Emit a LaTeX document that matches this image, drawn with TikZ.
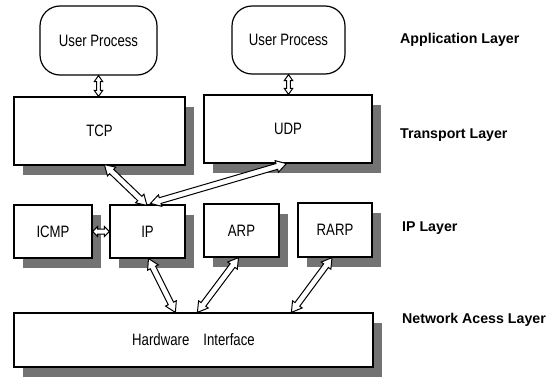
\documentclass[tikz,border=0pt]{standalone}
\usepackage{fontspec}
\usetikzlibrary{calc,shadows}
\newfontfamily\boxfont[FakeStretch=0.8]{Liberation Sans}
\newfontfamily\labfont{Liberation Sans}
\newcommand\dblarrow[5]{%
  \coordinate (ha) at ($(#1)!#5!(#2)$);
  \coordinate (hb) at ($(#2)!#5!(#1)$);
  \draw[hollow] (#1) -- ($(ha)!#4!90:(#2)$) -- ($(ha)!#3!90:(#2)$)
    -- ($(hb)!#3!-90:(#1)$) -- ($(hb)!#4!-90:(#1)$) -- (#2)
    -- ($(hb)!#4!90:(#1)$) -- ($(hb)!#3!90:(#1)$)
    -- ($(ha)!#3!-90:(#2)$) -- ($(ha)!#4!-90:(#2)$) -- cycle;
}
\begin{document}
\begin{tikzpicture}[x=1pt,y=-1pt,
  box/.style={draw, line width=1.2pt, fill=white, inner sep=0pt,
    font=\boxfont\fontsize{16.5}{18}\selectfont,
    drop shadow={shadow xshift=9pt, shadow yshift=-10pt, fill=black!55, opacity=1}},
  proc/.style={draw, line width=1.2pt, fill=white, inner sep=0pt, rounded corners=20pt,
    font=\boxfont\fontsize{16.5}{18}\selectfont},
  layer/.style={anchor=west, inner sep=0pt, font=\labfont\bfseries\fontsize{14.2}{16}\selectfont},
  hollow/.style={draw, fill=white, line width=1pt, line join=miter}]
\useasboundingbox (0,0) rectangle (559,380);

\node[proc, minimum width=117pt, minimum height=69pt] (up1) at (98.5,40.5) {User Process};
\node[proc, minimum width=113pt, minimum height=68pt] (up2) at (288.5,40) {User Process};

\node[box, minimum width=171pt, minimum height=68pt] (tcp) at (99.5,131) {TCP};
\node[box, minimum width=168pt, minimum height=68pt] (udp) at (288,129) {UDP};

\node[box, minimum width=78pt, minimum height=53pt] (icmp) at (53,231.5) {ICMP};
\node[box, minimum width=75pt, minimum height=53pt] (ip) at (147.5,231.5) {IP};
\node[box, minimum width=75pt, minimum height=53pt] (arp) at (241.5,230.5) {ARP};
\node[box, minimum width=74pt, minimum height=54pt] (rarp) at (335,230) {RARP};

\node[box, minimum width=359pt, minimum height=54pt] (hw) at (193.5,340) {Hardware\hspace{14pt}Interface};

\node[layer] (l1) at (400,40) {Application Layer};
\node[layer] (l2) at (400,135) {Transport Layer};
\node[layer] (l3) at (402,228) {IP Layer};
\node[layer] (l4) at (402,320) {Network Acess Layer};

% connector end points
\coordinate (a1s) at (up1.south);
\coordinate (a1e) at (up1.south |- tcp.north);
\coordinate (a2s) at (up2.south);
\coordinate (a2e) at (up2.south |- udp.north);
\coordinate (tcpb) at ($(tcp.south west)+(91,-1)$);
\coordinate (iptl) at ($(ip.north)+(-0.5,1)$);
\coordinate (udpb) at ($(udp.south west)+(83,0)$);
\coordinate (iptr) at ($(ip.north)+(3,-1)$);
\coordinate (ipb) at ($(ip.south)+(1,0)$);
\coordinate (hw1) at ($(hw.north west)+(162,0)$);
\coordinate (arpb) at ($(arp.south)+(-3,0)$);
\coordinate (hw2) at ($(hw.north west)+(184,0)$);
\coordinate (rarpb) at ($(rarp.south)+(-3,0)$);
\coordinate (hw3) at ($(hw.north west)+(278,0)$);

\dblarrow{a1s}{a1e}{1.8pt}{4.2pt}{6pt}
\dblarrow{a2s}{a2e}{1.8pt}{4.2pt}{6pt}
\dblarrow{icmp.east}{ip.west}{2.5pt}{5pt}{5pt}
\dblarrow{tcpb}{iptl}{3pt}{6pt}{10pt}
\dblarrow{udpb}{iptr}{3pt}{6pt}{10pt}
\dblarrow{ipb}{hw1}{3pt}{6pt}{10pt}
\dblarrow{arpb}{hw2}{3pt}{6pt}{10pt}
\dblarrow{rarpb}{hw3}{3pt}{6pt}{10pt}
\end{tikzpicture}
\end{document}
